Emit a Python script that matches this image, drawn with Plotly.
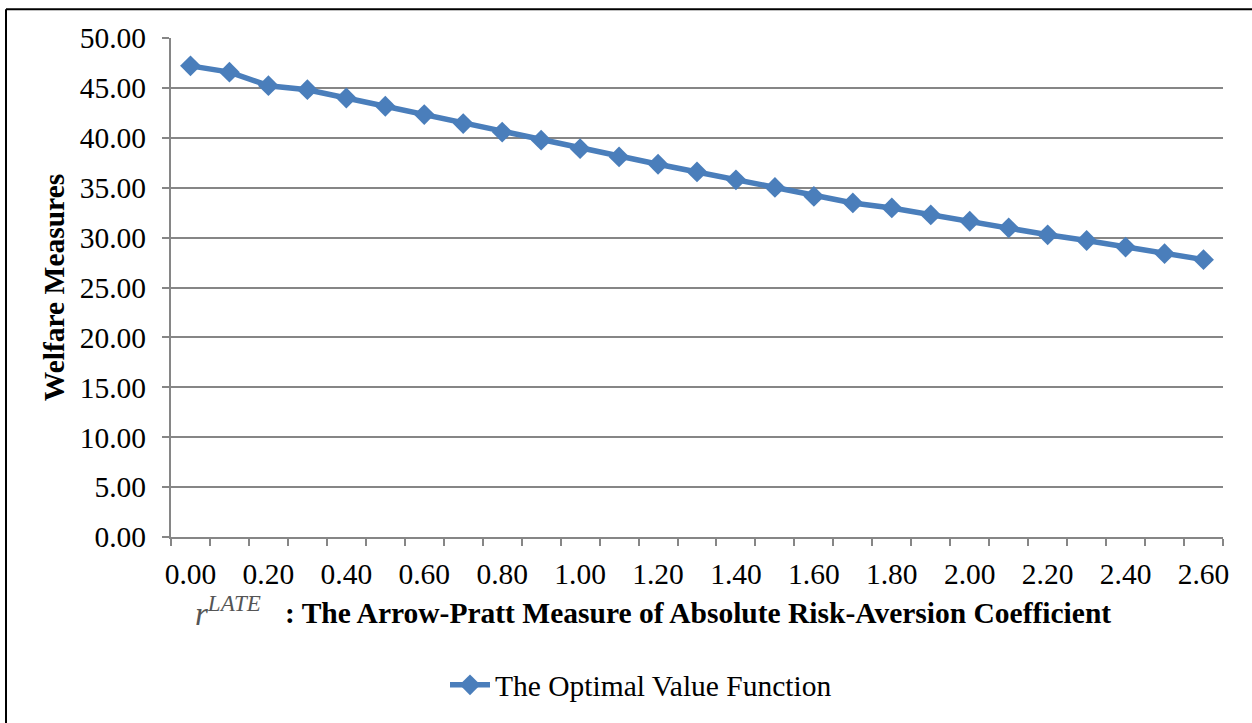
import plotly.graph_objects as go

r_values = [0.0, 0.1, 0.2, 0.3, 0.4, 0.5, 0.6, 0.7, 0.8, 0.9, 1.0, 1.1, 1.2, 1.3,
            1.4, 1.5, 1.6, 1.7, 1.8, 1.9, 2.0, 2.1, 2.2, 2.3, 2.4, 2.5, 2.6]
welfare = [47.21, 46.58, 45.22, 44.82, 43.99, 43.16, 42.33, 41.43, 40.57, 39.76,
           38.91, 38.08, 37.35, 36.58, 35.79, 35.03, 34.13, 33.47, 32.97, 32.27,
           31.64, 30.98, 30.28, 29.71, 29.05, 28.39, 27.79]
x_tick_vals = [0.0, 0.2, 0.4, 0.6, 0.8, 1.0, 1.2, 1.4, 1.6, 1.8, 2.0, 2.2, 2.4, 2.6]
x_tick_text = ["%.2f" % v for v in x_tick_vals]
series_name = "The Optimal Value Function"

FONT = "Liberation Serif"
FS = 29.5
BLUE = "#4a7ebb"
GRID = "#868686"

fig = go.Figure()
fig.add_trace(go.Scatter(
    x=r_values, y=welfare, mode="lines+markers", name=series_name,
    line=dict(color=BLUE, width=5.5),
    marker=dict(symbol="diamond", size=16, color=BLUE),
))

fig.update_layout(
    width=1252, height=723,
    margin=dict(l=171, r=29, t=38, b=183),
    paper_bgcolor="white", plot_bgcolor="white",
    font=dict(family=FONT, size=FS, color="black"),
    showlegend=True,
    legend=dict(orientation="h", x=(445 - 171) / 1052, xanchor="left",
                y=(540 - 689) / 502, yanchor="middle",
                font=dict(family=FONT, size=FS, color="black"), itemwidth=40),
    xaxis=dict(
        range=[-0.05, 2.65], tickvals=x_tick_vals, ticktext=x_tick_text,
        ticks="", showgrid=False, zeroline=False,
        showline=True, linecolor=GRID, linewidth=2,
        tickfont=dict(family=FONT, size=FS, color="black"),
        minor=dict(tick0=-0.05, dtick=0.1, ticks="outside", ticklen=7,
                   tickcolor=GRID, tickwidth=2, showgrid=False),
        ticklabelstandoff=10,
    ),
    yaxis=dict(
        range=[0, 50], dtick=5, tickformat=".2f",
        showgrid=True, gridcolor=GRID, gridwidth=2, zeroline=False,
        showline=True, linecolor=GRID, linewidth=2,
        ticks="outside", ticklen=7, tickcolor=GRID, tickwidth=2,
        tickfont=dict(family=FONT, size=FS, color="black"),
        ticklabelstandoff=10,
        title=dict(text="<b>Welfare Measures</b>", font=dict(family=FONT, size=FS),
                   standoff=6),
    ),
)

fig.add_annotation(
    xref="paper", yref="paper", x=(193 - 171) / 1052, y=(540 - 614) / 502,
    xanchor="left", yanchor="middle", showarrow=False,
    text="<i>r</i><sup><i>LATE</i></sup>",
    font=dict(family=FONT, size=33, color="#555555"),
)
fig.add_annotation(
    xref="paper", yref="paper", x=(283 - 171) / 1052, y=(540 - 616) / 502,
    xanchor="left", yanchor="middle", showarrow=False,
    text="<b>: The Arrow-Pratt Measure of Absolute Risk-Aversion Coefficient</b>",
    font=dict(family=FONT, size=FS, color="black"),
)

# outer chart border (left and top edges visible)
fig.add_shape(type="line", xref="paper", yref="paper",
              x0=(6 - 171) / 1052, x1=(6 - 171) / 1052, y0=(540 - 740) / 502, y1=(540 - 9) / 502,
              line=dict(color="black", width=2))
fig.add_shape(type="line", xref="paper", yref="paper",
              x0=(6 - 171) / 1052, x1=(1260 - 171) / 1052, y0=(540 - 9) / 502, y1=(540 - 9) / 502,
              line=dict(color="black", width=2))

fig.write_html("out.html")
